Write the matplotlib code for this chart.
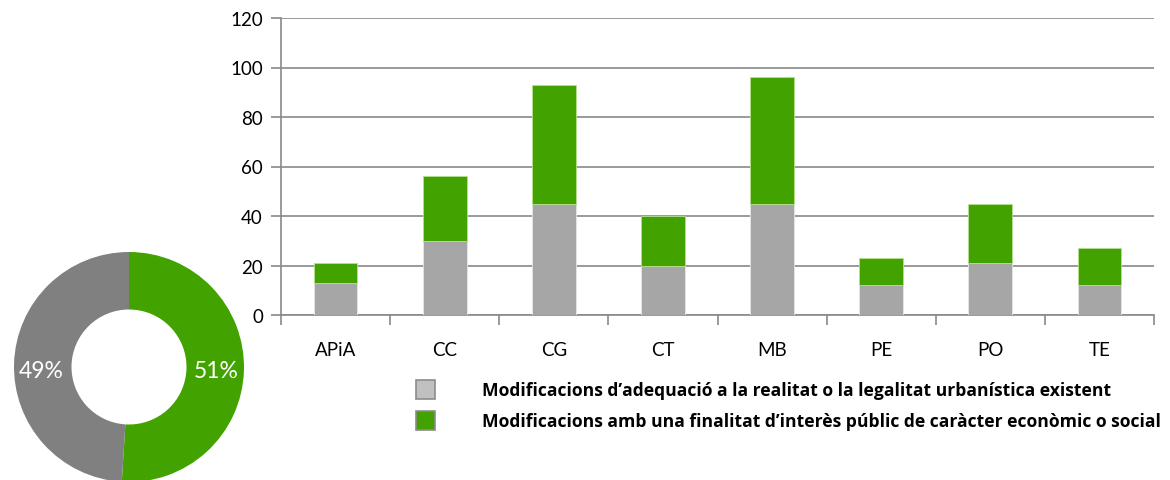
#Stacked bars of plan modifications by area, with a donut of the overall split
import matplotlib
matplotlib.use("Agg")
import matplotlib.pyplot as plt
from matplotlib.patches import Rectangle

plt.rcParams['font.family'] = ['Lato', 'DejaVu Sans']

#Data
areas = ["APiA", "CC", "CG", "CT", "MB", "PE", "PO", "TE"]
adequacio = [13, 30, 45, 20, 45, 12, 21, 12]
interes = [8, 26, 48, 20, 51, 11, 24, 15]
yticks = [0, 20, 40, 60, 80, 100, 120]
legend_labels = [
    "Modificacions d\u2019adequació a la realitat o la legalitat urbanística existent",
    "Modificacions amb una finalitat d\u2019interès públic de caràcter econòmic o social",
]
donut_shares = [51, 49]
donut_labels = ["51%", "49%"]

green = "#41A200"
bar_gray = "#A6A6A6"
donut_gray = "#808080"
grid_gray = "#898989"

fig = plt.figure(figsize=(11.70, 4.81), dpi=100)

#Bar chart
ax = fig.add_axes([281/1170, 1 - 316/481, (1154 - 281)/1170, (316 - 19)/481])
x = range(len(areas))
ax.bar(x, adequacio, width=0.4, color=bar_gray, edgecolor="#E6E6E6", linewidth=0.6, zorder=3)
ax.bar(x, interes, width=0.4, bottom=adequacio, color=green, edgecolor="#B5E08F", linewidth=0.6, zorder=3)

ax.set_xlim(-0.5, len(areas) - 0.5)
ax.set_ylim(0, 120)
ax.set_yticks(yticks)
ax.yaxis.grid(True, color=grid_gray, linewidth=1.2)
ax.set_axisbelow(True)
ax.set_xticks(list(x))
ax.set_xticklabels(areas)
ax.set_xticks([i - 0.5 for i in range(len(areas) + 1)], minor=True)
ax.tick_params(axis="x", which="major", length=0, pad=19, labelsize=13.5)
ax.tick_params(axis="x", which="minor", length=7, width=1.2, color=grid_gray)
ax.tick_params(axis="y", length=7, width=1.2, color=grid_gray, labelsize=13.5, pad=6)
for side in ["top", "right"]:
    ax.spines[side].set_visible(False)
for side in ["left", "bottom"]:
    ax.spines[side].set_color(grid_gray)
    ax.spines[side].set_linewidth(1.2)

#Legend drawn by hand in figure coordinates
fill_cols = ["#C0C0C0", green]
for i, lab in enumerate(legend_labels):
    y_top = 381 + i * 31
    fig.patches.append(Rectangle((416/1170, 1 - (y_top + 19)/481), 19/1170, 19/481,
                                 transform=fig.transFigure, facecolor=fill_cols[i],
                                 edgecolor="#8C8C8C", linewidth=1.2))
    fig.text(482/1170, 1 - (y_top + 10)/481, lab, fontsize=12.6, fontweight="bold",
             family=["Open Sans", "DejaVu Sans"], va="center", ha="left")

#Donut
dax = fig.add_axes([14/1170, 1 - 483/481, 230/1170, 230/481])
dax.pie(donut_shares, colors=[green, donut_gray], startangle=90, counterclock=False,
        radius=1, wedgeprops=dict(width=0.5, edgecolor="none"))
dax.set_xlim(-1, 1)
dax.set_ylim(-1, 1)
dax.set_aspect("equal")
dax.text(0.76, -0.03, donut_labels[0], color="white", fontsize=16.5, ha="center", va="center")
dax.text(-0.76, -0.03, donut_labels[1], color="white", fontsize=16.5, ha="center", va="center")

fig.savefig("out.png", dpi=100)
